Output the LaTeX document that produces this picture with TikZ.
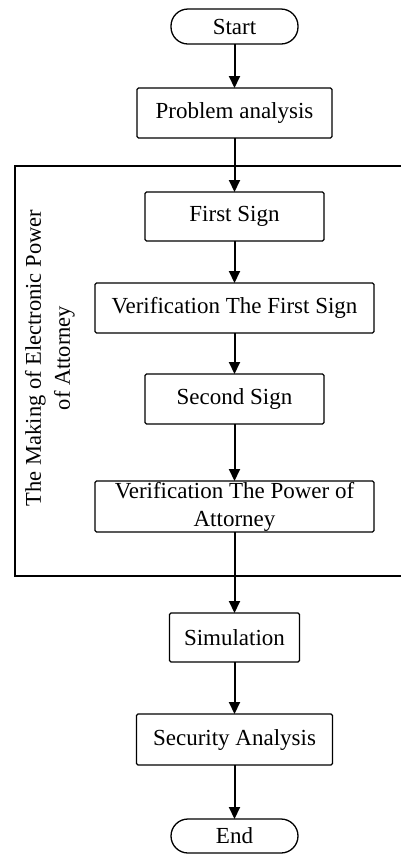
\documentclass[tikz,border=0pt]{standalone}
\usepackage{fontspec}
\setmainfont{Liberation Serif}
\usetikzlibrary{positioning,arrows.meta}

\begin{document}
\begin{tikzpicture}[x=1pt, y=1pt, node distance={44pt}, thick,
  stage/.style = {draw, line width=1.3pt, rounded corners=1.5pt, minimum height=50pt, inner sep=0pt, outer sep=0pt, align=center, font=\fontsize{23}{28}\selectfont},
  term/.style = {draw, line width=1.3pt, rounded corners=17pt, minimum width=127pt, minimum height=35pt, inner sep=0pt, outer sep=0pt, font=\fontsize{23}{28}\selectfont},
  flow/.style = {-{Triangle[length=12pt,width=11pt]}, line width=2pt}]
\useasboundingbox (0,0) rectangle (401,-855);
\node[term] (start) at (234.5,-26.5) {Start};
\node[stage, minimum width=195pt] (prob) [below=44pt of start] {Problem analysis};
\node[stage, minimum width=179pt, minimum height=49pt] (first) [below=54pt of prob] {First Sign};
\node[stage, minimum width=279pt] (ver1) [below=42pt of first] {Verification The First Sign};
\node[stage, minimum width=179pt] (second) [below=41pt of ver1] {Second Sign};
\node[stage, minimum width=279pt, minimum height=51pt] (ver2) [below=57pt of second] {Verification The Power of\\Attorney};
\node[stage, minimum width=130pt, minimum height=49pt] (sim) [below=81pt of ver2] {Simulation};
\node[stage, minimum width=196pt, minimum height=51pt] (sec) [below=52pt of sim] {Security Analysis};
\node[term, minimum height=34pt] (end) [below=54pt of sec] {End};
% frame round the signing steps
\draw[line width=2pt] (402,-166) -- (15,-166) -- (15,-576) -- (402,-576);
\node[rotate=90, align=center, font=\fontsize{22.5}{29}\selectfont] (making) at (50,-358) {The Making of Electronic Power\\of Attorney};
\draw[flow] (start) -- (prob);
\draw[flow] (prob) -- (first);
\draw[flow] (first) -- (ver1);
\draw[flow] (ver1) -- (second);
\draw[flow] (second) -- (ver2);
\draw[flow] (ver2) -- (sim);
\draw[flow] (sim) -- (sec);
\draw[flow] (sec) -- (end);
\end{tikzpicture}
\end{document}
